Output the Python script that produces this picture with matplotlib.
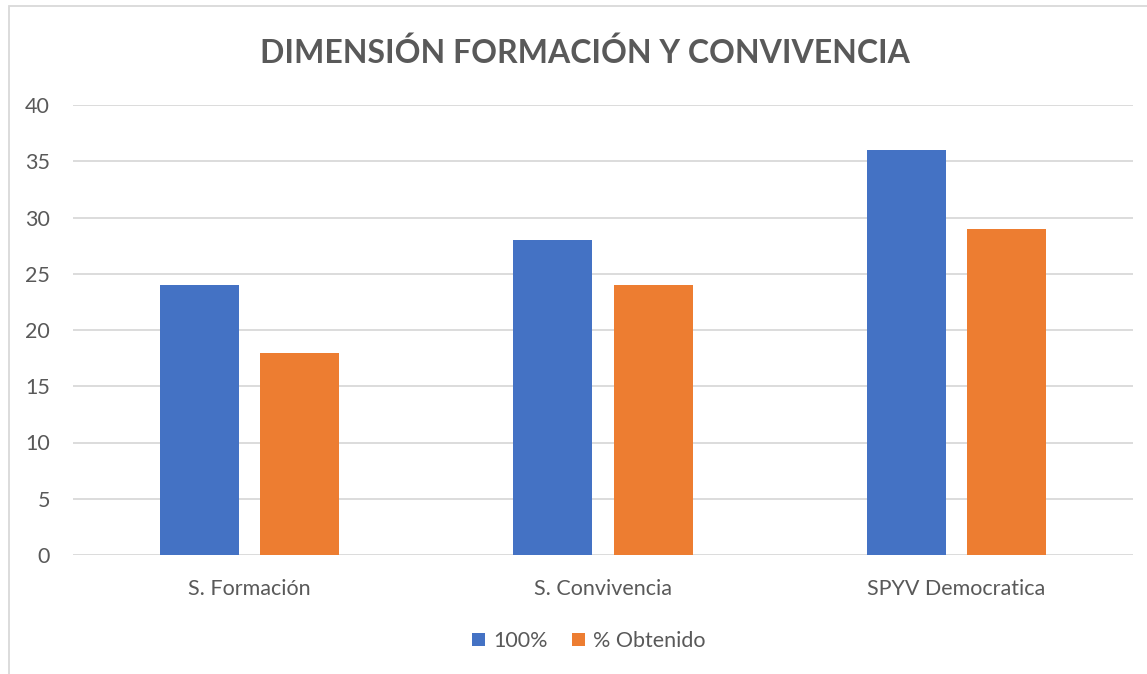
import matplotlib
matplotlib.use("Agg")
import matplotlib.pyplot as plt
import numpy as np
from matplotlib.patches import Rectangle

categories = ["S. Formación", "S. Convivencia", "SPYV Democratica"]
series_names = ["100%", "% Obtenido"]
values_100 = [24, 28, 36]
values_obt = [18, 24, 29]
yticks = [0, 5, 10, 15, 20, 25, 30, 35, 40]

plt.rcParams['font.family'] = ['Lato', 'DejaVu Sans']
fig = plt.figure(figsize=(11.47, 6.74), dpi=100)
ax = fig.add_axes([73/1147, 1-555/674, (1133-73)/1147, 450/674])

x = np.arange(len(categories))
w = 0.224
off = 0.142
ax.bar(x - off, values_100, w, color="#4472C4", label=series_names[0], zorder=3)
ax.bar(x + off, values_obt, w, color="#ED7D31", label=series_names[1], zorder=3)

ax.set_xlim(-0.5, 2.5)
ax.set_ylim(0, 40)
ax.set_yticks(yticks)
ax.yaxis.grid(True, color="#D9D9D9", lw=1.3, zorder=0)
for s in ax.spines.values():
    s.set_visible(False)
ax.tick_params(axis='both', length=0, labelsize=15.5, colors="#595959")
ax.tick_params(axis='y', pad=16.5)
ax.tick_params(axis='x', pad=17)
ax.set_xticks(x)
ax.set_xticklabels(categories)

fig.text(585/1147, 1-53/674, "DIMENSIÓN FORMACIÓN Y CONVIVENCIA", ha="center", va="center",
         fontsize=23, fontweight="bold", color="#595959")

leg = fig.legend(loc="center", bbox_to_anchor=(589/1147, 1-641/674), ncol=2, frameon=False,
                 fontsize=15.5, handlelength=0.6, handleheight=0.6, columnspacing=1.1, handletextpad=0.4)
for t in leg.get_texts():
    t.set_color("#595959")

fig.patches.append(Rectangle((8.5/1147, -0.1), 1.2, 1.1-6.5/674, transform=fig.transFigure,
                             fill=False, edgecolor="#D9D9D9", lw=1.3))

fig.savefig("out.png", dpi=100)
